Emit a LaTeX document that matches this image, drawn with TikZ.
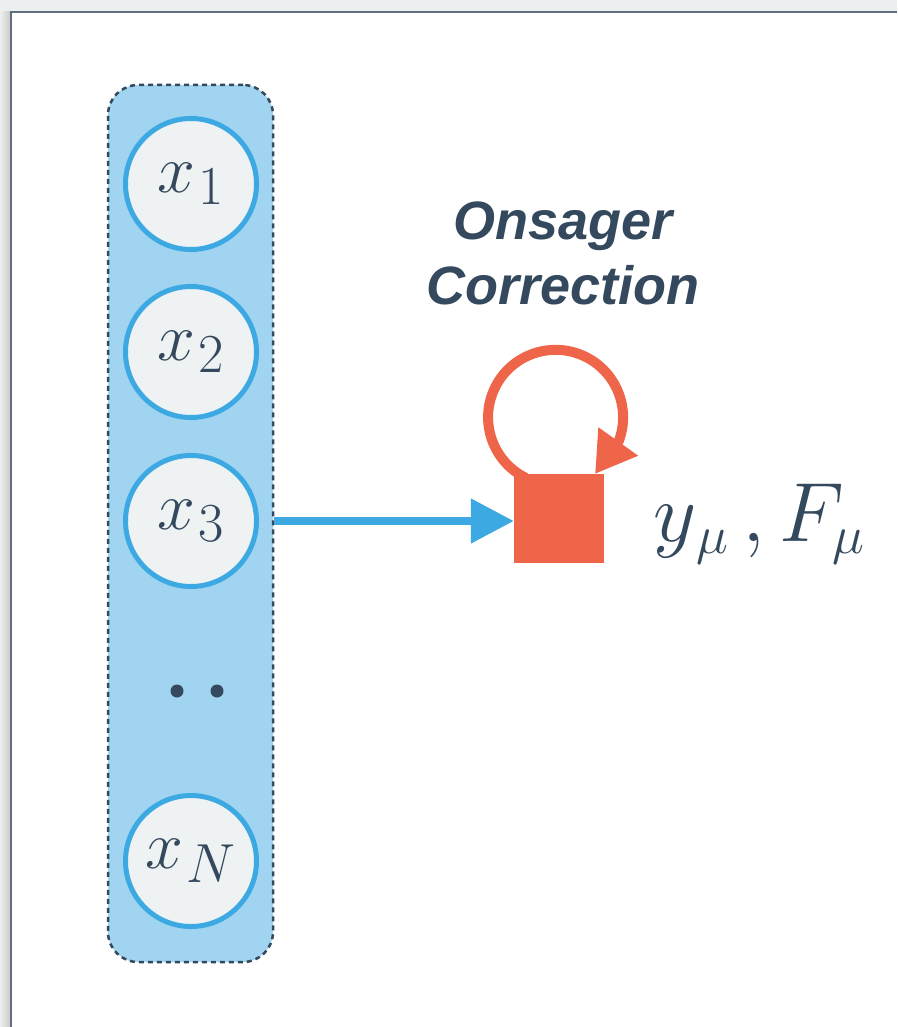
\RequirePackage{fix-cm}
\documentclass[tikz,border=0pt]{standalone}
\usepackage{fontspec}
\setsansfont{Liberation Sans}
\usetikzlibrary{arrows.meta,calc}
\DeclareMathSizes{68}{68}{55}{42}
\DeclareMathSizes{84}{84}{54}{42}
\newcommand{\subgap}{\kern3pt}
\definecolor{slate}{HTML}{34495E}
\definecolor{paneblue}{HTML}{A0D4F0}
\definecolor{nodegray}{HTML}{EEF2F3}
\definecolor{ringblue}{HTML}{3DA9E2}
\definecolor{factorred}{HTML}{EE654A}
\definecolor{chrome}{HTML}{ECEFEF}
\definecolor{chromeedge}{HTML}{5E6F7F}
\begin{document}
\begin{tikzpicture}[x=1pt,y=-1pt,
  groupbox/.style={draw=slate, fill=paneblue, dash pattern=on 5pt off 4pt,
    line width=2.5pt, rounded corners=30pt, minimum width=165pt,
    minimum height=877pt, inner sep=0pt},
  var/.style={circle, draw=ringblue, fill=nodegray, line width=5pt,
    minimum size=131pt, inner sep=0pt, text=slate,
    font=\fontsize{68}{80}\selectfont},
  factor/.style={rectangle, fill=factorred, minimum width=90pt,
    minimum height=89pt, inner sep=0pt},
  flow/.style={draw=ringblue, line width=8pt,
    -{Triangle[length=43pt,width=43pt]}},
  selfloop/.style={draw=factorred, line width=10pt,
    -{Triangle[length=40pt,width=46pt]}},
  caption/.style={text=slate, align=center, inner sep=0pt,
    font=\sffamily\bfseries\itshape\fontsize{54}{65}\selectfont},
  dot/.style={circle, fill=slate, minimum size=13pt, inner sep=0pt}]
\useasboundingbox (0,0) rectangle (897,1027);

% window frame around the canvas
\fill[chrome] (0,0) rectangle (897,12);
\shade[left color=chrome!95!white, right color=black!22] (0,12) rectangle (11,1027);
\fill[white] (11,12) rectangle (897,1027);
\draw[chromeedge, line width=1.5pt] (11,1027) -- (11,12) -- (897,12);

% group of variable nodes
\node[groupbox] (grp) at (190.5,523.5) {};
\node[var] (x1) at (191,184) {$x_{\subgap 1}$};
\node[var] (x2) at (191,352) {$x_{\subgap 2}$};
\node[var] (x3) at (191,521) {$x_{\subgap 3}$};
\node[dot] (d1) at (177,691) {};
\node[dot] (d2) at (217,691) {};
\node[var] (xN) at (191,861) {$x_{\subgap N}$};

% factor node with its self loop
\coordinate (sqc) at (559,518.5);
\coordinate (loopstart) at ($(sqc)+(-33,-40.5)$);
\coordinate (looptip) at ($(sqc)+(36,-44.5)$);
\draw[selfloop] (loopstart) arc[start angle=116, end angle=380, radius=67.5] -- (looptip);
\node[factor] (sq) at (sqc) {};

\draw[flow] (x3 -| grp.east) -- (x3 -| sq.west);

\node[caption] (oc) at (563,253) {Onsager\\Correction};
\node[text=slate, inner sep=0pt, anchor=base west,
  font=\fontsize{84}{96}\selectfont] (ylab) at (653,541) {$y_{\subgap\mu}\,, F_{\mu}$};
\end{tikzpicture}
\end{document}
